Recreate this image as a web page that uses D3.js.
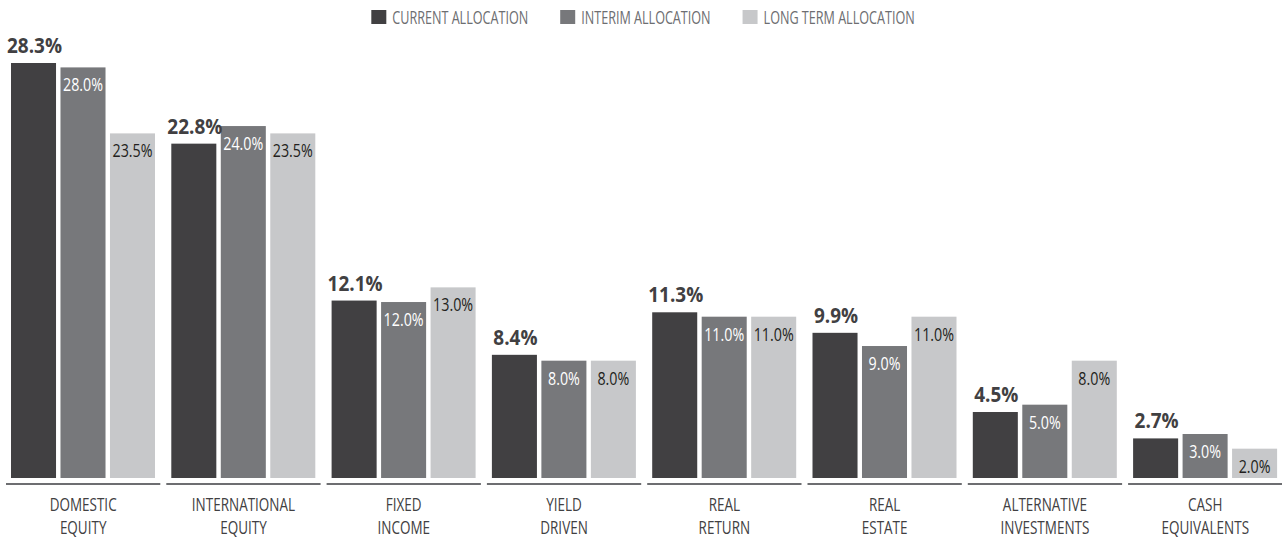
<!DOCTYPE html>
<html>
<head>
<meta charset="utf-8">
<script src="https://cdn.jsdelivr.net/npm/d3@7"></script>
<style>
  body { margin: 0; background: #ffffff; }
  svg { display: block; }
</style>
</head>
<body>
<svg id="chart" width="1282" height="540"></svg>
<script>
// data
const categories = ['DOMESTIC EQUITY', 'INTERNATIONAL EQUITY', 'FIXED INCOME', 'YIELD DRIVEN',
  'REAL RETURN', 'REAL ESTATE', 'ALTERNATIVE INVESTMENTS', 'CASH EQUIVALENTS'];
const seriesNames = ['CURRENT ALLOCATION', 'INTERIM ALLOCATION', 'LONG TERM ALLOCATION'];
const currentAlloc = [28.3, 22.8, 12.1, 8.4, 11.3, 9.9, 4.5, 2.7];
const interimAlloc = [28.0, 24.0, 12.0, 8.0, 11.0, 9.0, 5.0, 3.0];
const longTermAlloc = [23.5, 23.5, 13.0, 8.0, 11.0, 11.0, 8.0, 2.0];

const colors = ['#414042', '#77787b', '#c7c8ca'];
const face = '"Open Sans", "Noto Sans", "DejaVu Sans", sans-serif';

const baseline = 478;

const svg = d3.select('#chart');

// measure a sample string so the face can be squeezed to the condensed widths of the original
function measure(str, size, weight) {
  const t = svg.append('text')
    .attr('font-family', face)
    .attr('font-size', size)
    .attr('font-weight', weight)
    .text(str);
  const w = t.node().getComputedTextLength();
  t.remove();
  return w;
}

const catSize = 19, catSx = 67 / measure('DOMESTIC', catSize, 'normal');
const legSize = 19, legSx = 136 / measure('CURRENT ALLOCATION', legSize, 'normal');
const valSize = 17.5, valSx = 40 / measure('28.0%', valSize, 'normal');
const boldSize = 21, boldSx = 55 / measure('28.3%', boldSize, 'bold');

const rows = categories.map((c, i) => ({
  category: c,
  values: [currentAlloc[i], interimAlloc[i], longTermAlloc[i]]
}));

// outer bands: one per category, 6px gap between the separator lines
const x0 = d3.scaleBand()
  .domain(categories)
  .range([6, 6 + 8 * 160.3])
  .padding(0);

const x1 = d3.scaleBand()
  .domain(seriesNames)
  .range([5, 149])
  .paddingInner(0.09)
  .paddingOuter(0);

const y = d3.scaleLinear()
  .domain([0, 28.3])
  .range([baseline, 63]);

function squeezed(parent, x, yPos, str, size, sx, opts) {
  const g = parent.append('g')
    .attr('transform', `translate(${x},${yPos}) scale(${sx},1)`);
  return g.append('text')
    .attr('font-family', face)
    .attr('font-size', size)
    .attr('fill', opts.fill)
    .attr('font-weight', opts.weight || 'normal')
    .attr('text-anchor', opts.anchor || 'middle')
    .text(str);
}

const groups = svg.append('g')
  .selectAll('g')
  .data(rows)
  .join('g')
  .attr('transform', d => `translate(${x0(d.category)},0)`);

groups.selectAll('rect')
  .data(d => d.values.map((v, k) => ({ key: seriesNames[k], k, v })))
  .join('rect')
  .attr('x', d => x1(d.key))
  .attr('y', d => y(d.v))
  .attr('width', x1.bandwidth())
  .attr('height', d => baseline - y(d.v))
  .attr('fill', d => colors[d.k]);

// separator lines under each group
groups.append('line')
  .attr('x1', 0)
  .attr('x2', x0.bandwidth() - 6)
  .attr('y1', 484)
  .attr('y2', 484)
  .attr('stroke', '#6d6e71')
  .attr('stroke-width', 2);

groups.each(function (d) {
  const g = d3.select(this);
  d.values.forEach((v, k) => {
    const cx = x1(seriesNames[k]) + x1.bandwidth() / 2;
    const label = v.toFixed(1) + '%';
    if (k === 0) {
      squeezed(g, cx + 1, y(v) - 10, label, boldSize, boldSx, {
        fill: colors[0], weight: 'bold'
      });
    } else {
      squeezed(g, cx, y(v) + 24, label, valSize, valSx, {
        fill: k === 1 ? '#ffffff' : '#231f20'
      });
    }
  });

  // category label on two lines, one text element
  const words = d.category.split(' ');
  const cx = (x0.bandwidth() - 6) / 2;
  const t = squeezed(g, cx, 511, '', catSize, catSx, { fill: '#414042' });
  t.selectAll('tspan')
    .data(words)
    .join('tspan')
    .attr('x', 0)
    .attr('dy', (w, i) => i === 0 ? 0 : 23)
    .text(w => w);
});

// legend across the top
const legend = svg.append('g');
let lx = 0;
seriesNames.forEach((name, k) => {
  legend.append('rect')
    .attr('x', lx)
    .attr('y', 10)
    .attr('width', 15)
    .attr('height', 14)
    .attr('fill', colors[k]);
  const t = squeezed(legend, lx + 21, 24, name, legSize, legSx, {
    fill: '#6d6e71', anchor: 'start'
  });
  const w = t.node().getComputedTextLength() * legSx;
  lx += 21 + w + 32;
});
const legendWidth = lx - 32;
legend.attr('transform', `translate(${643 - legendWidth / 2},0)`);
</script>
</body>
</html>
